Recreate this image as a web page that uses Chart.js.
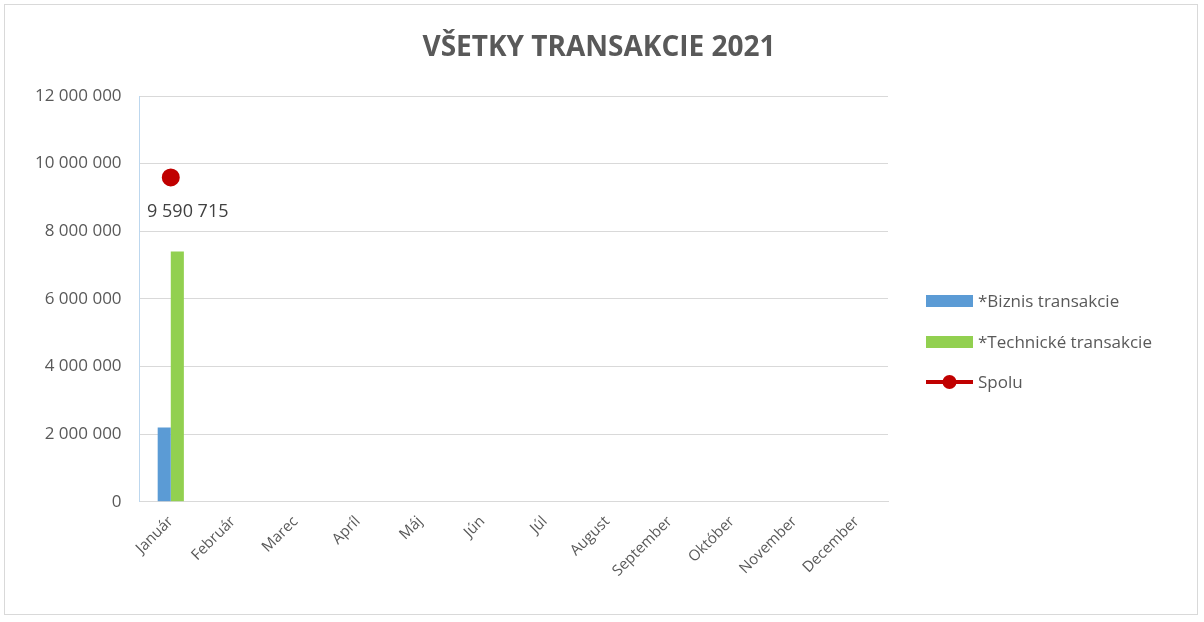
<!DOCTYPE html>
<html>
<head>
<meta charset="utf-8">
<script src="https://cdn.jsdelivr.net/npm/chart.js@4"></script>
<style>
  body { margin: 0; background: #fff; }
  #wrap { position: absolute; left: 4px; top: 4px; width: 1192px; height: 609px; border: 1px solid #d9d9d9; }
</style>
</head>
<body>
<div id="wrap"><canvas id="chart"></canvas></div>
<script>
// chart data
const months = ['Január', 'Február', 'Marec', 'Apríl', 'Máj', 'Jún', 'Júl', 'August', 'September', 'Október', 'November', 'December'];
const biznis = [2190715, null, null, null, null, null, null, null, null, null, null, null];
const technicke = [7400000, null, null, null, null, null, null, null, null, null, null, null];
const spolu = [9590715, null, null, null, null, null, null, null, null, null, null, null];
const titleText = 'VŠETKY TRANSAKCIE 2021';

const fmt = v => String(Math.round(v)).replace(/\B(?=(\d{3})+(?!\d))/g, ' ');
const FONT = "'Open Sans', 'Noto Sans', sans-serif";

const extras = {
  id: 'extras',
  afterDraw(chart) {
    const ctx = chart.ctx;
    ctx.save();
    // title
    ctx.fillStyle = '#595959';
    ctx.font = 'bold 28px ' + FONT;
    ctx.textAlign = 'center';
    ctx.textBaseline = 'middle';
    ctx.fillText(titleText, 594, 43);
    // data label for Spolu
    const meta = chart.getDatasetMeta(2);
    meta.data.forEach((pt, i) => {
      if (spolu[i] == null) return;
      ctx.font = '18px ' + FONT;
      ctx.fillStyle = '#404040';
      ctx.fillText(fmt(spolu[i]), pt.x + 17, pt.y + 34);
    });
    // legend
    ctx.textAlign = 'left';
    ctx.font = '17px ' + FONT;
    ctx.fillStyle = '#595959';
    const lx = 921, items = [
      ['*Biznis transakcie', '#5b9bd5', 'box', 296],
      ['*Technické transakcie', '#92d050', 'box', 337],
      ['Spolu', '#c00000', 'line', 377]
    ];
    items.forEach(([t, c, k, y]) => {
      if (k === 'box') {
        ctx.fillStyle = c;
        ctx.fillRect(lx, y - 6, 47, 12);
      } else {
        ctx.strokeStyle = c; ctx.lineWidth = 4;
        ctx.beginPath(); ctx.moveTo(lx, y); ctx.lineTo(lx + 47, y); ctx.stroke();
        ctx.fillStyle = c;
        ctx.beginPath(); ctx.arc(lx + 23.5, y, 7, 0, Math.PI * 2); ctx.fill();
      }
      ctx.fillStyle = '#595959';
      ctx.fillText(t, lx + 52, y + 1);
    });
    ctx.restore();
  }
};

new Chart(document.getElementById('chart'), {
  data: {
    labels: months,
    datasets: [
      { type: 'bar', label: '*Biznis transakcie', data: biznis, backgroundColor: '#5b9bd5', categoryPercentage: 0.42, barPercentage: 1, order: 2 },
      { type: 'bar', label: '*Technické transakcie', data: technicke, backgroundColor: '#92d050', categoryPercentage: 0.42, barPercentage: 1, order: 2 },
      { type: 'line', label: 'Spolu', data: spolu, borderColor: '#c00000', backgroundColor: '#c00000', borderWidth: 4, pointRadius: 7, pointHoverRadius: 7, order: 1 }
    ]
  },
  options: {
    responsive: true,
    maintainAspectRatio: false,
    animation: false,
    layout: { padding: { top: 91, right: 309, left: 12, bottom: 31 } },
    plugins: { legend: { display: false }, title: { display: false }, tooltip: { enabled: false } },
    scales: {
      x: {
        grid: { display: false },
        border: { color: '#d9d9d9' },
        ticks: { color: '#595959', font: { family: FONT, size: 15 }, maxRotation: 45, minRotation: 45, autoSkip: false }
      },
      y: {
        min: 0, max: 12000000,
        grid: { color: '#d9d9d9', drawTicks: false },
        border: { color: '#bdd7ee', display: true },
        ticks: { stepSize: 2000000, color: '#595959', padding: 18, font: { family: FONT, size: 17 }, callback: v => fmt(v) }
      }
    }
  },
  plugins: [extras]
});
</script>
</body>
</html>
